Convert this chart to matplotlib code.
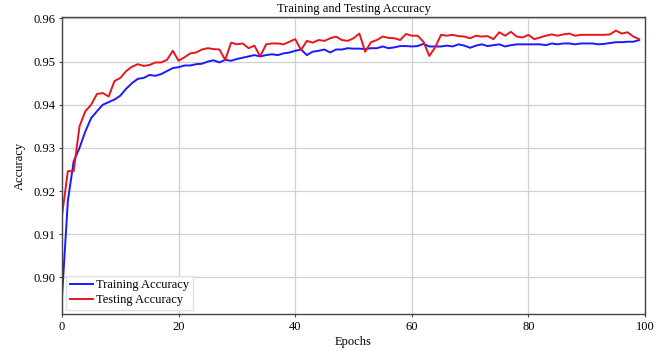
import matplotlib
matplotlib.use("Agg")
import matplotlib.pyplot as plt
import numpy as np

plt.rcParams['font.family'] = ['Liberation Serif', 'DejaVu Serif']

train_acc = [
    0.8955, 0.9177, 0.9269, 0.9300, 0.9338, 0.9369, 0.9385, 0.9400, 0.9406, 0.9412,
    0.9421, 0.9437, 0.9450, 0.9460, 0.9462, 0.9469, 0.9467, 0.9471, 0.9478, 0.9485,
    0.9487, 0.9491, 0.9491, 0.9494, 0.9495, 0.9500, 0.9503, 0.9498, 0.9504, 0.9502,
    0.9506, 0.9509, 0.9512, 0.9515, 0.9512, 0.9515, 0.9517, 0.9515, 0.9519, 0.9521,
    0.9525, 0.9528, 0.9515, 0.9523, 0.9525, 0.9528, 0.9521, 0.9528, 0.9528, 0.9531,
    0.9530, 0.9530, 0.9529, 0.9531, 0.9531, 0.9535, 0.9531, 0.9533, 0.9536, 0.9536,
    0.9535, 0.9536, 0.9541, 0.9535, 0.9535, 0.9535, 0.9537, 0.9535, 0.9540, 0.9537,
    0.9532, 0.9537, 0.9540, 0.9536, 0.9538, 0.9540, 0.9535, 0.9538, 0.9540, 0.9540,
    0.9540, 0.9540, 0.9540, 0.9538, 0.9542, 0.9540, 0.9542, 0.9542, 0.9540, 0.9542,
    0.9542, 0.9542, 0.9540, 0.9541, 0.9543, 0.9545, 0.9545, 0.9546, 0.9546, 0.9550,
]

test_acc = [
    0.9143, 0.9246, 0.9246, 0.9350, 0.9385, 0.9400, 0.9425, 0.9427, 0.9419, 0.9455,
    0.9462, 0.9478, 0.9488, 0.9494, 0.9490, 0.9492, 0.9498, 0.9498, 0.9504, 0.9525,
    0.9502, 0.9510, 0.9519, 0.9521, 0.9528, 0.9531, 0.9529, 0.9528, 0.9504, 0.9544,
    0.9540, 0.9542, 0.9531, 0.9537, 0.9512, 0.9540, 0.9542, 0.9542, 0.9540, 0.9546,
    0.9552, 0.9527, 0.9548, 0.9544, 0.9550, 0.9548, 0.9554, 0.9558, 0.9550, 0.9548,
    0.9554, 0.9565, 0.9523, 0.9545, 0.9550, 0.9558, 0.9555, 0.9554, 0.9550, 0.9564,
    0.9560, 0.9560, 0.9546, 0.9513, 0.9533, 0.9562, 0.9560, 0.9562, 0.9559, 0.9558,
    0.9554, 0.9560, 0.9558, 0.9559, 0.9552, 0.9568, 0.9560, 0.9569, 0.9558, 0.9556,
    0.9562, 0.9552, 0.9556, 0.9560, 0.9563, 0.9560, 0.9563, 0.9565, 0.9560, 0.9562,
    0.9562, 0.9562, 0.9562, 0.9562, 0.9563, 0.9572, 0.9565, 0.9568, 0.9558, 0.9552,
]

epochs = np.arange(len(train_acc))

fig = plt.figure(figsize=(6.69, 3.5), dpi=100)
ax = fig.add_axes([0.0927, 0.103, 0.8715, 0.848])

ax.plot(epochs, train_acc, color='#1a1aff', lw=1.4, label='Training Accuracy')
ax.plot(epochs, test_acc, color='#e8161c', lw=1.4, label='Testing Accuracy')

ax.set_xlim(0, 100)
ax.set_ylim(0.8915, 0.9603)
ax.set_xticks(range(0, 101, 20))
ax.set_yticks(np.arange(0.90, 0.961, 0.01))
ax.yaxis.set_major_formatter(matplotlib.ticker.FormatStrFormatter('%.2f'))
ax.grid(True, color='#d0d0d0', lw=0.9)
ax.set_axisbelow(True)
ax.tick_params(labelsize=9, length=2, color='#444444', pad=3)
for s in ax.spines.values():
    s.set_color('#444444')
    s.set_linewidth(1.0)

ax.set_title('Training and Testing Accuracy', fontsize=9, pad=4)
ax.set_xlabel('Epochs', fontsize=9, labelpad=2)
ax.set_ylabel('Accuracy', fontsize=9, labelpad=5)
ax.legend(loc='lower left', fontsize=9, frameon=True, fancybox=False,
          edgecolor='#dddddd', borderpad=0.3, handlelength=1.9,
          handletextpad=0.2, labelspacing=0.25, borderaxespad=0.3)

fig.savefig('out.png', dpi=100)
